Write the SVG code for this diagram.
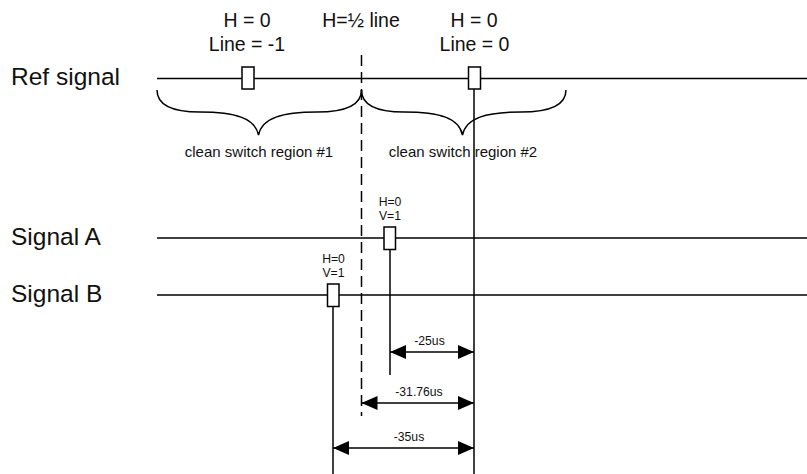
<svg xmlns="http://www.w3.org/2000/svg" width="807" height="474" viewBox="0 0 807 474">
  <style>
    text { font-family: "Liberation Sans", Arial, sans-serif; fill: #111; }
    .big { font-size: 24.5px; }
    .top { font-size: 19.5px; text-anchor: middle; }
    .reg { font-size: 15px; text-anchor: middle; }
    .sm { font-size: 12.2px; text-anchor: middle; }
    .ln { stroke: #000; stroke-width: 1.5; fill: none; }
    .dash { stroke: #000; stroke-width: 1.5; fill: none; stroke-dasharray: 11 6; }
    .box { fill: #fff; stroke: #000; stroke-width: 1.5; }
    .arr { stroke: #000; stroke-width: 1.5; fill: none; marker-start: url(#ah); marker-end: url(#ah); }
  </style>
  <defs>
    <marker id="ah" viewBox="0 0 16 14" refX="16" refY="7" markerWidth="16" markerHeight="14" markerUnits="userSpaceOnUse" orient="auto-start-reverse">
      <path d="M0,0 L16,7 L0,14 z" fill="#000"/>
    </marker>
  </defs>

  <rect width="807" height="474" fill="#fff"/>

  <g id="labels">
    <text class="big" x="11" y="85">Ref signal</text>
    <text class="big" x="11" y="245">Signal A</text>
    <text class="big" x="11" y="302">Signal B</text>
    <text class="top" x="247" y="27">H = 0</text>
    <text class="top" x="247" y="51">Line = -1</text>
    <text class="top" x="361" y="27">H=½ line</text>
    <text class="top" x="474" y="27">H = 0</text>
    <text class="top" x="474.5" y="51">Line = 0</text>
  </g>

  <g id="connectors">
    <line class="ln" x1="157" y1="78.5" x2="807" y2="78.5"/>
    <line class="ln" x1="157" y1="238" x2="807" y2="238"/>
    <line class="ln" x1="157" y1="295" x2="807" y2="295"/>
    <line class="dash" x1="361.5" y1="55" x2="361.5" y2="416"/>
    <line class="ln" x1="474" y1="89" x2="474" y2="474"/>
    <line class="ln" x1="390" y1="249" x2="390" y2="375"/>
    <line class="ln" x1="333" y1="306" x2="333" y2="474"/>
    <line class="arr" x1="390" y1="352" x2="474" y2="352"/>
    <line class="arr" x1="361.5" y1="403" x2="474" y2="403"/>
    <line class="arr" x1="333" y1="448" x2="474" y2="448"/>
  </g>

  <g id="brace1">
    <path class="ln" d="M157,90 C157,104 170,112 200,112 C235,112 255,118 258.5,135 C262,118 282,112 317,112 C347,112 361.5,104 361.5,90"/>
    <text class="reg" x="259" y="157">clean switch region #1</text>
  </g>
  <g id="brace2">
    <path class="ln" d="M361.5,90 C361.5,104 374,112 404,112 C440,112 459,118 462.5,135 C466,118 486,112 521,112 C551,112 566,104 566,90"/>
    <text class="reg" x="463" y="157">clean switch region #2</text>
  </g>

  <g id="ref-mark-1">
    <rect class="box" x="242" y="67" width="12" height="22"/>
  </g>
  <g id="ref-mark-0">
    <rect class="box" x="468.5" y="67" width="12" height="22"/>
  </g>
  <g id="mark-a">
    <rect class="box" x="384" y="227" width="11.5" height="22.5"/>
    <text class="sm" x="390" y="206">H=0</text>
    <text class="sm" x="390" y="220">V=1</text>
  </g>
  <g id="mark-b">
    <rect class="box" x="327.5" y="284" width="11.5" height="22.5"/>
    <text class="sm" x="333.5" y="263">H=0</text>
    <text class="sm" x="333.5" y="277">V=1</text>
  </g>

  <g id="dim-labels">
    <text class="sm" x="429.5" y="345">-25us</text>
    <text class="sm" x="419" y="396">-31.76us</text>
    <text class="sm" x="409" y="441">-35us</text>
  </g>
</svg>
